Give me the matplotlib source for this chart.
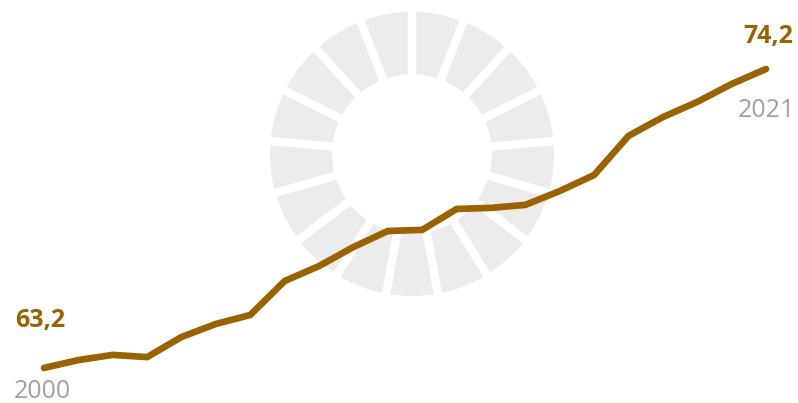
import matplotlib
matplotlib.use("Agg")
import matplotlib.pyplot as plt
from matplotlib.patches import Wedge
import numpy as np

years = list(range(2000, 2022))
values = [63.2, 63.49, 63.68, 63.60, 64.34, 64.82, 65.15, 66.40, 66.95, 67.65, 68.24,
          68.28, 69.05, 69.09, 69.20, 69.71, 70.30, 71.74, 72.43, 72.99, 73.65, 74.2]

LINE_COLOR = "#9a6200"
GREY_TEXT = "#a0a0a0"
WHEEL_COLOR = "#ececec"

W, H = 798, 403
fig = plt.figure(figsize=(W / 100, H / 100), dpi=100)

# background wheel, drawn in pixel space
bg = fig.add_axes([0, 0, 1, 1])
bg.set_xlim(0, W)
bg.set_ylim(H, 0)
bg.set_aspect("equal")
bg.axis("off")
cx, cy, r_out, r_in = 412, 154, 142, 80
n = 17
bg.add_patch(Wedge((cx, cy), r_out, 0, 360, width=r_out - r_in, color=WHEEL_COLOR, lw=0))
for k in range(n):
    a = np.deg2rad(90 + k * 360 / n)
    bg.plot([cx, cx + (r_out + 5) * np.cos(a)], [cy, cy - (r_out + 5) * np.sin(a)],
            color="white", lw=6, solid_capstyle="butt")

# the series
ax = fig.add_axes([0, 0, 1, 1])
ax.patch.set_alpha(0)
ax.plot(years, values, color=LINE_COLOR, lw=4.8, solid_capstyle="round", solid_joinstyle="miter")
ax.set_xlim(1998.72, 2021.93)
ax.set_ylim(61.91, 76.74)
ax.axis("off")

fam = ["Open Sans", "DejaVu Sans"]
fmt = lambda v: f"{v:.1f}".replace(".", ",")
fig.text(15 / W, 1 - 327 / H, fmt(values[0]), color=LINE_COLOR, fontsize=18,
         fontweight="bold", family=fam, ha="left", va="baseline")
fig.text(14 / W, 1 - 398 / H, str(years[0]), color=GREY_TEXT, fontsize=18,
         family=fam, ha="left", va="baseline")
fig.text(793 / W, 1 - 43 / H, fmt(values[-1]), color=LINE_COLOR, fontsize=18,
         fontweight="bold", family=fam, ha="right", va="baseline")
fig.text(795 / W, 1 - 117 / H, str(years[-1]), color=GREY_TEXT, fontsize=18,
         family=fam, ha="right", va="baseline")

fig.savefig("out.png", dpi=100)
